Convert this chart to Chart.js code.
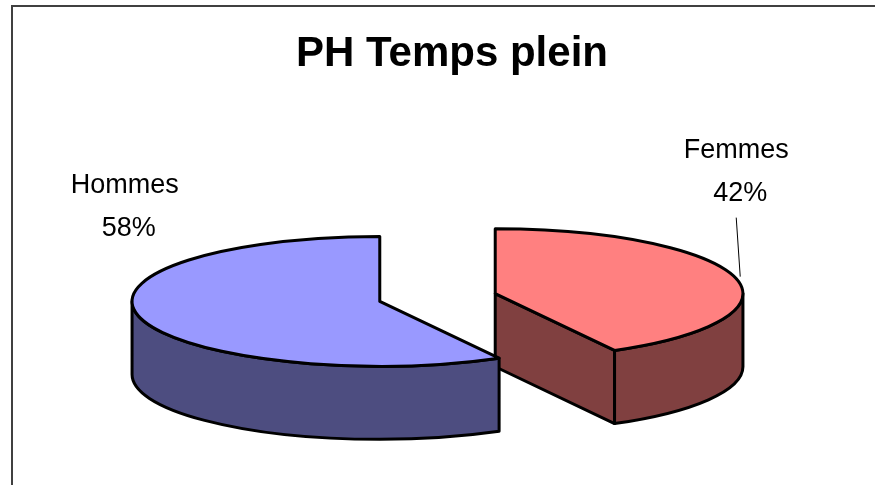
<!DOCTYPE html>
<html>
<head>
<meta charset="utf-8">
<title>PH Temps plein</title>
<script src="https://cdn.jsdelivr.net/npm/chart.js@4/dist/chart.umd.min.js"></script>
<style>
  html, body { margin: 0; padding: 0; background: #fff; }
  canvas { display: block; }
</style>
</head>
<body>
<canvas id="pieChart" width="875" height="485"></canvas>
<script>
// data
const categories = ['Femmes', 'Hommes'];
const percents = [42, 58];
const topColors = ['#FF8080', '#9999FF'];
const sideColors = ['#804040', '#4D4D80'];
const chartTitle = 'PH Temps plein';

// squash factors turning the flat pie into a tilted 3d one
const KX = 1.49;
const KY = 0.39;
const KD = 0.44;

// label placement, relative to the exploded slice centre (line 1 baseline)
const labelOffsets = [[241, -136], [-255, -108]];
const leaderLines = [[[241, -76], [245, -17]], null];

const FONT = "'Liberation Sans', Arial, sans-serif";

function visibleWall(a0, a1) {
    // front half of the ellipse is where sin(t) > 0
    for (let k = -1; k <= 1; k++) {
        const s = Math.max(a0, 2 * Math.PI * k);
        const e = Math.min(a1, 2 * Math.PI * k + Math.PI);
        if (e > s) return [s, e];
    }
    return null;
}

function sliceGeom(arc) {
    const off = arc.options.offset || 0;
    const mid = (arc.startAngle + arc.endAngle) / 2;
    const R = arc.outerRadius;
    return {
        cx: arc.x + Math.cos(mid) * off * KX,
        cy: arc.y + Math.sin(mid) * off * KY,
        rx: R * KX,
        ry: R * KY,
        d: R * KD,
        a0: arc.startAngle,
        a1: arc.endAngle
    };
}

const pie3d = {
    id: 'pie3d',
    beforeDatasetsDraw(chart) {
        const ctx = chart.ctx;
        const meta = chart.getDatasetMeta(0);
        ctx.save();
        ctx.lineWidth = 3;
        ctx.lineJoin = 'round';
        ctx.strokeStyle = '#000';

        meta.data.forEach((arc, i) => {
            const g = sliceGeom(arc);
            const px = t => g.cx + g.rx * Math.cos(t);
            const py = t => g.cy + g.ry * Math.sin(t);

            ctx.fillStyle = sideColors[i];

            // cut face at the end edge
            if (Math.cos(g.a1) > 0.01) {
                ctx.beginPath();
                ctx.moveTo(g.cx, g.cy);
                ctx.lineTo(px(g.a1), py(g.a1));
                ctx.lineTo(px(g.a1), py(g.a1) + g.d);
                ctx.lineTo(g.cx, g.cy + g.d);
                ctx.closePath();
                ctx.fill();
                ctx.stroke();
            }
            // cut face at the start edge
            if (Math.cos(g.a0) < -0.01) {
                ctx.beginPath();
                ctx.moveTo(g.cx, g.cy);
                ctx.lineTo(px(g.a0), py(g.a0));
                ctx.lineTo(px(g.a0), py(g.a0) + g.d);
                ctx.lineTo(g.cx, g.cy + g.d);
                ctx.closePath();
                ctx.fill();
                ctx.stroke();
            }

            // outer wall
            const w = visibleWall(g.a0, g.a1);
            if (w) {
                ctx.beginPath();
                ctx.ellipse(g.cx, g.cy, g.rx, g.ry, 0, w[0], w[1]);
                ctx.lineTo(px(w[1]), py(w[1]) + g.d);
                ctx.ellipse(g.cx, g.cy + g.d, g.rx, g.ry, 0, w[1], w[0], true);
                ctx.closePath();
                ctx.fill();
                ctx.stroke();
            }

            // top face
            ctx.fillStyle = topColors[i];
            ctx.beginPath();
            ctx.moveTo(g.cx, g.cy);
            ctx.lineTo(px(g.a0), py(g.a0));
            ctx.ellipse(g.cx, g.cy, g.rx, g.ry, 0, g.a0, g.a1);
            ctx.closePath();
            ctx.fill();
            ctx.stroke();
        });
        ctx.restore();
        return false;
    },
    afterDraw(chart) {
        const ctx = chart.ctx;
        const meta = chart.getDatasetMeta(0);
        ctx.save();

        // frame
        ctx.strokeStyle = '#404040';
        ctx.lineWidth = 2;
        ctx.strokeRect(12, 6, 900, 520);

        // title
        ctx.fillStyle = '#000';
        ctx.textAlign = 'center';
        ctx.textBaseline = 'alphabetic';
        ctx.font = 'bold 42px ' + FONT;
        ctx.fillText(chartTitle, 452, 66);

        // slice labels
        ctx.font = '27px ' + FONT;
        meta.data.forEach((arc, i) => {
            const g = sliceGeom(arc);
            const lx = g.cx + labelOffsets[i][0];
            const ly = g.cy + labelOffsets[i][1];
            ctx.fillText(categories[i], lx, ly);
            ctx.fillText(percents[i] + '%', lx + 4, ly + 43);
            const ll = leaderLines[i];
            if (ll) {
                ctx.beginPath();
                ctx.lineWidth = 1;
                ctx.strokeStyle = '#000';
                ctx.moveTo(g.cx + ll[0][0], g.cy + ll[0][1]);
                ctx.lineTo(g.cx + ll[1][0], g.cy + ll[1][1]);
                ctx.stroke();
            }
        });
        ctx.restore();
    }
};

new Chart(document.getElementById('pieChart'), {
    type: 'pie',
    data: {
        labels: categories,
        datasets: [{
            data: percents,
            backgroundColor: topColors,
            borderColor: '#000',
            borderWidth: 2.5,
            offset: 40
        }]
    },
    options: {
        responsive: false,
        animation: false,
        layout: { padding: { top: 110 } },
        plugins: {
            legend: { display: false },
            tooltip: { enabled: false },
            title: { display: false }
        }
    },
    plugins: [pie3d]
});
</script>
</body>
</html>
